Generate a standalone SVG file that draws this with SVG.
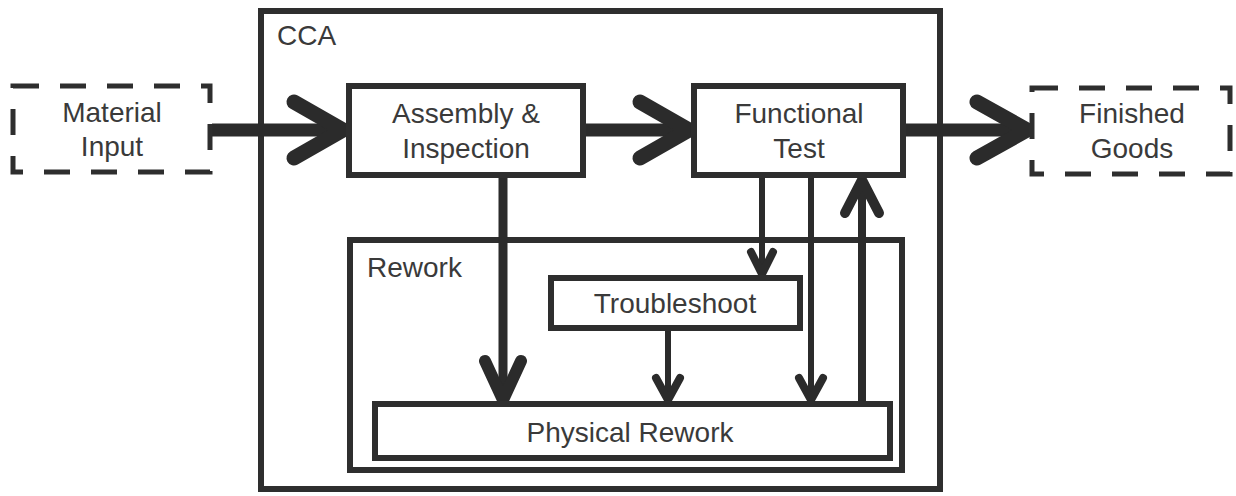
<svg xmlns="http://www.w3.org/2000/svg" width="1236" height="496" viewBox="0 0 1236 496">
  <style>
    .box { fill: #ffffff; stroke: #2e2e2e; stroke-width: 6; }
    .frame { fill: none; stroke: #2e2e2e; stroke-width: 6; }
    .ext { fill: #ffffff; stroke: #2e2e2e; stroke-width: 5; stroke-dasharray: 26 21; }
    .lbl { font-family: "Liberation Sans", Arial, sans-serif; font-size: 28px; fill: #3a3a3a; }
    .mid { text-anchor: middle; }
    .shaft { fill: none; stroke: #2b2b2b; stroke-linecap: butt; }
    .head { fill: none; stroke: #2b2b2b; stroke-linecap: round; stroke-linejoin: miter; stroke-miterlimit: 10; }
  </style>
  <rect width="1236" height="496" fill="#ffffff"/>

  <!-- container frames -->
  <g id="cca">
    <rect class="frame" x="261" y="11" width="679" height="478"/>
    <text class="lbl" x="277" y="45">CCA</text>
  </g>
  <g id="rework">
    <rect class="frame" x="350" y="240" width="552" height="230"/>
    <text class="lbl" x="367" y="277">Rework</text>
  </g>

  <!-- connectors -->
  <g id="connectors">
    <!-- main flow -->
    <line class="shaft" x1="212" y1="130" x2="340" y2="130" stroke-width="13"/>
    <path class="head" d="M294 102 L343 130 L294 158" stroke-width="15"/>
    <line class="shaft" x1="583" y1="130" x2="686" y2="130" stroke-width="13"/>
    <path class="head" d="M640 102 L689 130 L640 158" stroke-width="15"/>
    <line class="shaft" x1="904" y1="130" x2="1026" y2="130" stroke-width="13"/>
    <path class="head" d="M977 102 L1027 130 L977 158" stroke-width="15"/>

    <!-- Assembly & Inspection to Physical Rework -->
    <line class="shaft" x1="503" y1="174" x2="503" y2="400" stroke-width="9"/>
    <path class="head" d="M485 361 L503 400 L521 361" stroke-width="12"/>

    <!-- Functional Test to Troubleshoot -->
    <line class="shaft" x1="762" y1="175" x2="762" y2="275" stroke-width="6"/>
    <path class="head" d="M751 252 L762 274 L773 252" stroke-width="8"/>

    <!-- Troubleshoot to Physical Rework -->
    <line class="shaft" x1="668" y1="328" x2="668" y2="400" stroke-width="6"/>
    <path class="head" d="M656 378 L668 400 L680 378" stroke-width="8"/>

    <!-- Functional Test to Physical Rework -->
    <line class="shaft" x1="811" y1="175" x2="811" y2="400" stroke-width="6"/>
    <path class="head" d="M799 378 L811 400 L823 378" stroke-width="8"/>

    <!-- Physical Rework back to Functional Test -->
    <line class="shaft" x1="862" y1="404" x2="862" y2="180" stroke-width="8"/>
    <path class="head" d="M845 213 L862 180 L879 213" stroke-width="10"/>
  </g>

  <!-- external nodes -->
  <g id="material-input">
    <rect class="ext" x="13" y="86" width="197" height="86"/>
    <text class="lbl mid" x="112" y="122">Material</text>
    <text class="lbl mid" x="112" y="156">Input</text>
  </g>
  <g id="finished-goods">
    <rect class="ext" x="1032" y="88" width="198" height="86"/>
    <text class="lbl mid" x="1132" y="123">Finished</text>
    <text class="lbl mid" x="1132" y="158">Goods</text>
  </g>

  <!-- process nodes -->
  <g id="assembly-inspection">
    <rect class="box" x="349" y="86" width="234" height="89"/>
    <text class="lbl mid" x="466" y="123">Assembly &amp;</text>
    <text class="lbl mid" x="466" y="158">Inspection</text>
  </g>
  <g id="functional-test">
    <rect class="box" x="694" y="86" width="209" height="89"/>
    <text class="lbl mid" x="799" y="123">Functional</text>
    <text class="lbl mid" x="799" y="158">Test</text>
  </g>
  <g id="troubleshoot">
    <rect class="box" x="551" y="278" width="249" height="50"/>
    <text class="lbl mid" x="675" y="313">Troubleshoot</text>
  </g>
  <g id="physical-rework">
    <rect class="box" x="375" y="404" width="515" height="54"/>
    <text class="lbl mid" x="630" y="442">Physical Rework</text>
  </g>
</svg>
